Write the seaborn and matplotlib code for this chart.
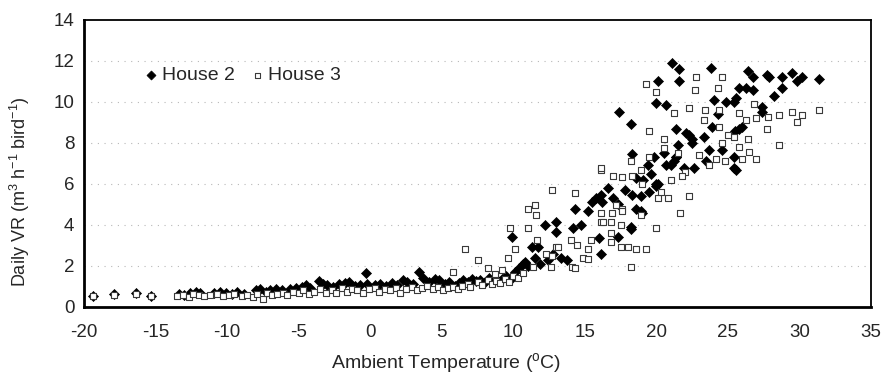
import matplotlib
matplotlib.use("Agg")
import matplotlib.pyplot as plt
import seaborn as sns
import pandas as pd

# House 2: daily ventilation rate vs ambient temperature
house2_temp = [
    -19.4, -17.9, -16.4, -15.3, -13.4, -13.0, -12.6, -12.2, -11.9, -10.9,
    -10.5, -10.1, -9.7, -9.3, -8.8, -8.0, -7.7, -7.3, -7.0, -6.6,
    -6.2, -5.6, -5.2, -4.8, -4.5, -4.2, -3.6, -3.3, -3.0, -2.6,
    -2.2, -1.8, -1.5, -1.1, -0.7, -0.3, -0.2, 0.3, 0.7, 1.1,
    1.5, 1.9, 2.3, 2.6, 3.0, 3.4, 3.7, 4.1, 4.5, 4.8,
    5.2, 5.5, 5.9, 6.2, 6.5, 6.8, 7.1, 7.4, 7.7, 8.0,
    8.3, 8.6, 8.9, 9.2, 9.5, 9.8, 10.1, 10.4, 10.7, 9.9,
    10.8, 11.0, 11.3, 11.5, 11.7, 11.9, 12.2, 12.4, 12.8, 13.0,
    13.0, 13.3, 13.75, 14.2, 14.3, 14.7, 15.2, 15.5, 16.0, 16.1,
    16.1, 16.2, 17.0, 17.3, 17.4, 17.8, 18.2, 18.2, 18.3, 18.3,
    18.9, 18.9, 19.5, 19.8, 20.0, 20.1, 20.0, 19.1, 19.6, 20.0,
    18.6, 19.0, 18.2, 20.7, 21.2, 21.9, 21.1, 21.6, 21.6, 20.7,
    23.8, 21.4, 22.1, 22.5, 23.3, 23.9, 24.3, 25.4, 25.6, 26.3,
    26.4, 27.4, 25.8, 25.6, 25.4, 24.6, 23.5, 22.6, 21.4, 21.0,
    20.5, 20.1, 26.75, 27.7, 27.9, 28.8, 29.5, 29.8, 30.2, 31.4,
    28.8, 28.2, 26.75, 25.8, 24.0, 24.9, 27.4, 26.0, 25.5, 21.5,
    22.3, 22.5, 23.7, 21.4, 25.4, 17.3, 18.6, 19.4, 16.6, 15.8,
]
house2_vr = [
    0.55, 0.65, 0.70, 0.55, 0.65, 0.60, 0.70, 0.75, 0.70, 0.70,
    0.75, 0.70, 0.65, 0.75, 0.65, 0.80, 0.85, 0.75, 0.80, 0.85,
    0.80, 0.85, 0.90, 0.95, 1.05, 0.90, 1.25, 1.10, 1.05, 0.95,
    1.10, 1.15, 1.20, 1.00, 1.05, 1.65, 1.10, 1.05, 1.10, 1.00,
    1.15, 1.05, 1.30, 1.20, 1.10, 1.70, 1.40, 1.20, 1.35, 1.30,
    1.10, 1.20, 1.00, 1.15, 1.30, 1.20, 1.35, 1.25, 1.30, 1.20,
    1.40, 1.30, 1.25, 1.35, 1.50, 1.30, 1.70, 1.90, 2.10, 3.40,
    2.20, 2.00, 2.90, 2.40, 2.90, 2.10, 4.00, 2.30, 2.60, 4.15,
    3.66, 2.40, 2.30, 3.85, 4.80, 4.00, 4.70, 5.10, 3.37, 2.60,
    5.46, 5.10, 5.30, 3.40, 9.50, 5.70, 3.80, 8.90, 7.46, 5.46,
    5.40, 4.70, 5.60, 7.30, 9.95, 11.0, 6.00, 6.20, 6.50, 5.90,
    4.80, 4.60, 3.90, 6.90, 7.10, 6.80, 11.9, 11.6, 11.0, 9.85,
    11.65, 8.70, 8.50, 8.20, 8.30, 8.80, 9.40, 10.0, 10.2, 10.7,
    11.5, 9.50, 8.70, 6.70, 7.30, 7.66, 7.10, 6.80, 7.30, 6.90,
    7.50, 6.00, 11.2, 11.3, 11.2, 11.2, 11.4, 11.0, 11.2, 11.1,
    10.7, 10.3, 10.6, 10.7, 10.1, 10.0, 9.75, 8.80, 8.60, 7.90,
    8.40, 8.00, 7.66, 7.30, 6.80, 5.00, 6.30, 6.90, 5.80, 5.30,
]

# House 3: daily ventilation rate vs ambient temperature
house3_temp = [
    -19.4, -17.9, -16.4, -15.3, -13.5, -13.1, -12.7, -12.4, -12.0, -11.6,
    -11.2, -10.7, -10.3, -9.9, -9.5, -9.0, -8.6, -8.2, -7.9, -7.5,
    -7.2, -6.9, -6.5, -6.1, -5.8, -5.4, -5.0, -4.7, -4.3, -3.9,
    -3.5, -3.1, -2.7, -2.4, -2.0, -1.6, -1.3, -0.9, -0.5, -0.1,
    0.3, 0.6, 1.0, 1.4, 1.8, 2.1, 2.5, 2.9, 3.3, 3.6,
    4.0, 4.4, 4.7, 5.1, 5.4, 5.8, 6.1, 6.4, 6.8, 7.0,
    7.5, 7.8, 8.2, 8.5, 8.8, 9.1, 9.4, 9.7, 10.0, 10.3,
    6.6, 7.5, 5.8, 8.2, 9.6, 9.8, 10.1, 8.7, 9.2, 11.0,
    11.0, 11.6, 12.7, 14.3, 11.65, 12.3, 13.0, 12.6, 14.0, 14.45,
    14.9, 14.1, 11.4, 10.7, 11.5, 13.1, 12.7, 15.4, 15.2, 15.2,
    14.3, 16.1, 16.9, 16.8, 16.1, 17.6, 17.2, 17.5, 16.8, 16.8,
    17.5, 18.0, 18.6, 19.3, 18.2, 18.9, 20.0, 20.1, 20.8, 22.3,
    21.65, 16.1, 17.0, 17.6, 18.3, 18.9, 18.2, 16.1, 17.6, 16.3,
    19.3, 20.0, 19.5, 22.8, 24.6, 22.7, 24.3, 31.4, 29.5, 30.2,
    29.8, 27.8, 28.6, 27.7, 27.0, 28.6, 26.3, 25.8, 21.2, 22.3,
    23.4, 24.4, 23.3, 24.4, 20.5, 20.5, 19.5, 21.5, 23.0, 24.2,
    24.8, 25.8, 26.4, 26.5, 27.0, 26.0, 24.6, 25.4, 19.0, 21.0,
    22.0, 23.7, 20.3, 21.8, 25.0, 26.8,
]
house3_vr = [
    0.55, 0.60, 0.65, 0.55, 0.55, 0.60, 0.50, 0.65, 0.60, 0.55,
    0.60, 0.65, 0.55, 0.60, 0.65, 0.55, 0.60, 0.50, 0.65, 0.40,
    0.70, 0.60, 0.65, 0.70, 0.60, 0.75, 0.70, 0.80, 0.65, 0.75,
    0.85, 0.70, 0.80, 0.70, 0.90, 0.75, 0.85, 0.80, 0.70, 0.85,
    0.90, 0.75, 0.85, 0.80, 0.90, 0.70, 0.85, 0.95, 0.80, 0.90,
    1.00, 0.85, 0.95, 0.80, 0.90, 0.95, 0.85, 1.00, 1.10, 0.95,
    1.20, 1.05, 1.30, 1.10, 1.25, 1.15, 1.35, 1.20, 1.50, 1.40,
    2.80, 2.30, 1.70, 1.90, 2.40, 3.85, 2.80, 1.60, 1.80, 3.85,
    4.80, 4.50, 5.70, 5.56, 3.27, 2.60, 2.90, 1.95, 3.27, 3.00,
    2.40, 1.95, 1.95, 1.66, 4.97, 2.90, 2.50, 3.27, 2.80, 2.34,
    1.90, 4.60, 4.60, 4.15, 4.15, 4.80, 4.97, 4.00, 3.60, 3.17,
    2.90, 2.90, 2.80, 2.80, 1.95, 4.50, 3.85, 5.30, 5.30, 5.40,
    4.60, 6.70, 6.40, 6.35, 6.40, 6.70, 7.10, 6.80, 4.70, 4.15,
    10.9, 10.5, 8.60, 11.2, 11.2, 10.6, 10.7, 9.60, 9.50, 9.37,
    9.00, 9.27, 9.37, 8.70, 9.20, 7.90, 9.10, 9.46, 9.46, 9.70,
    9.60, 9.60, 9.10, 8.80, 8.20, 7.76, 7.30, 7.50, 7.40, 7.20,
    7.10, 7.80, 8.20, 7.56, 7.20, 7.20, 8.00, 8.30, 6.00, 6.20,
    6.60, 6.90, 5.60, 6.40, 8.40, 9.90,
]

df2 = pd.DataFrame({"temp": house2_temp, "vr": house2_vr})
df3 = pd.DataFrame({"temp": house3_temp, "vr": house3_vr})

sns.set_style("white")
plt.rcParams["font.family"] = ["Liberation Sans", "DejaVu Sans"]
plt.rcParams["mathtext.fontset"] = "custom"
plt.rcParams["mathtext.rm"] = "Liberation Sans"
plt.rcParams["mathtext.it"] = "Liberation Sans"
plt.rcParams["axes.unicode_minus"] = False

fig = plt.figure(figsize=(8.86, 3.77), dpi=100)
ax = fig.add_axes([0.095, 0.186, 0.888, 0.761])

for yv in [2, 4, 6, 8, 10, 12]:
    ax.axhline(yv, color="#b8b8b8", lw=0.8, ls=(0, (1, 5)), zorder=0)

sns.scatterplot(data=df2, x="temp", y="vr", ax=ax, marker="D", s=26,
                color="black", edgecolor="black", linewidth=0.5,
                label="House 2", zorder=3)
sns.scatterplot(data=df3, x="temp", y="vr", ax=ax, marker="s", s=16,
                facecolor="white", edgecolor="#3a3a3a", linewidth=0.8,
                label="House 3", zorder=4)

ax.set_xlim(-20, 35)
ax.set_ylim(0, 14)
ax.set_xticks(range(-20, 36, 5))
ax.set_yticks(range(0, 15, 2))
ax.tick_params(axis="both", labelsize=13.5, length=3, width=1,
               direction="out", color="black")
ax.tick_params(axis="x", pad=9)
ax.tick_params(axis="y", pad=4)
for side, sp in ax.spines.items():
    sp.set_color("black")
    sp.set_linewidth(2.0 if side in ("left", "bottom") else 1.3)

ax.set_xlabel(r"Ambient Temperature ($^{o}$C)", fontsize=14)
ax.xaxis.set_label_coords(0.46, -0.155)
ax.set_ylabel(r"Daily VR (m$^{3}$ h$^{-1}$ bird$^{-1}$)", fontsize=13)
ax.yaxis.set_label_coords(-0.066, 0.40)

leg = ax.legend(loc="center left", bbox_to_anchor=(0.077, 0.808), ncol=2,
                frameon=False, fontsize=14, handlelength=0.6,
                handletextpad=0.3, columnspacing=0.8, borderpad=0,
                borderaxespad=0, markerscale=0.9)

fig.savefig("out.png", dpi=100)
